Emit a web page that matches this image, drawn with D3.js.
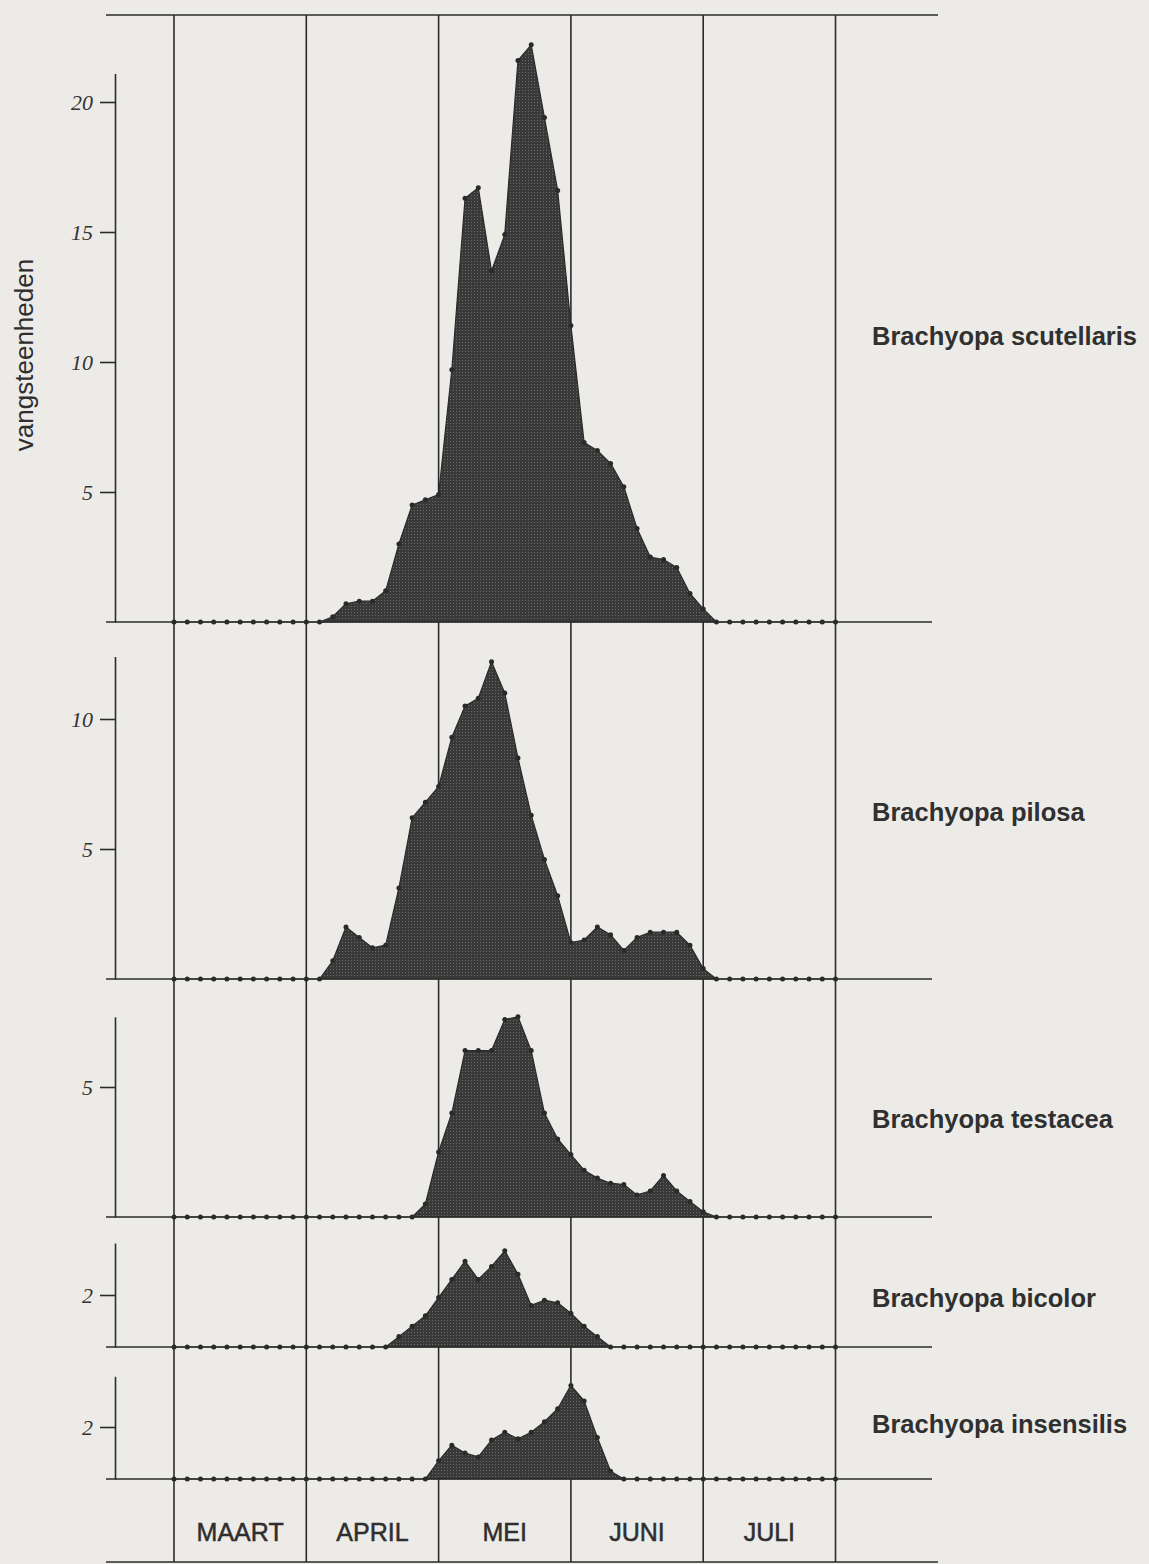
<!DOCTYPE html>
<html>
<head>
<meta charset="utf-8">
<script src="https://cdn.jsdelivr.net/npm/d3@7"></script>
<style>
  body { margin: 0; background: #ecebe8; }
</style>
</head>
<body>
<div id="container"></div>
<script>
/* CONSTANTS AND GLOBALS */
const width = 1149,
  height = 1564,
  unit = 26,          // px per vangsteenheid
  lineLeft = 106,
  lineRight = 932,
  axisX = 115;

/* DATA */
const months = ["MAART", "APRIL", "MEI", "JUNI", "JULI"];
const species = ["Brachyopa scutellaris", "Brachyopa pilosa", "Brachyopa testacea", "Brachyopa bicolor", "Brachyopa insensilis"];

// one value per 1/10 month, from 1 March to 31 July
const scutellaris = [0,0,0,0,0,0,0,0,0,0,0,0, 0.2,0.7,0.8,0.8,1.2,3.0,4.5,4.7,4.9,9.7,16.3,16.7,13.5,14.9,21.6,22.2,19.4,16.6,11.4,6.9,6.6,6.1,5.2,3.6,2.5,2.4,2.1,1.1,0.5, 0,0,0,0,0,0,0,0,0,0];
const pilosa = [0,0,0,0,0,0,0,0,0,0,0,0, 0.7,2.0,1.6,1.2,1.3,3.5,6.2,6.8,7.4,9.3,10.5,10.8,12.2,11.0,8.5,6.3,4.6,3.2,1.4,1.5,2.0,1.7,1.1,1.6,1.8,1.8,1.8,1.3,0.4, 0,0,0,0,0,0,0,0,0,0];
const testacea = [0,0,0,0,0,0,0,0,0,0,0,0,0,0,0,0,0,0,0, 0.5,2.5,4.0,6.4,6.4,6.4,7.6,7.7,6.4,4.0,3.0,2.4,1.8,1.5,1.3,1.25,0.85,1.0,1.6,1.0,0.6,0.2, 0,0,0,0,0,0,0,0,0,0];
const bicolor = [0,0,0,0,0,0,0,0,0,0,0,0,0,0,0,0,0, 0.4,0.8,1.2,1.9,2.6,3.3,2.6,3.1,3.7,2.8,1.6,1.8,1.7,1.3,0.8,0.4, 0,0,0,0,0,0,0,0,0,0,0,0,0,0,0,0,0,0];
const insensilis = [0,0,0,0,0,0,0,0,0,0,0,0,0,0,0,0,0,0,0,0, 0.7,1.3,1.0,0.85,1.5,1.8,1.55,1.8,2.2,2.7,3.6,3.0,1.6,0.3, 0,0,0,0,0,0,0,0,0,0,0,0,0,0,0,0,0];

const tickSets = [[5, 10, 15, 20], [5, 10], [5], [2], [2]];

/* LAYOUT */
const baselines = [622, 979, 1217, 1347, 1479];
const axisTops = [21.1, 12.4, 7.7, 4.0, 3.95];
const labelY = [345, 821, 1128, 1307, 1433];
const series = [scutellaris, pilosa, testacea, bicolor, insensilis];

const svg = d3.select("#container")
  .append("svg")
  .attr("width", width)
  .attr("height", height)
  .style("display", "block")
  .style("background-color", "#ecebe8")

// stippled print screen for the areas
const pattern = svg.append("defs")
  .append("pattern")
  .attr("id", "screen")
  .attr("width", 3)
  .attr("height", 3)
  .attr("patternUnits", "userSpaceOnUse")
pattern.append("rect").attr("width", 3).attr("height", 3).attr("fill", "#393939")
pattern.append("rect").attr("width", 1).attr("height", 1).attr("fill", "#6a6a6a")

/* SCALES */
const xScale = d3.scaleLinear()
  .domain([0, 50])
  .range([174, 835.5])

// month boundaries
svg.selectAll(".month-line")
  .data(d3.range(0, months.length + 1))
  .join("line")
  .attr("class", "month-line")
  .attr("x1", d => xScale(d * 10))
  .attr("x2", d => xScale(d * 10))
  .attr("y1", 15)
  .attr("y2", 1562)
  .attr("stroke", "#2b2b2b")
  .attr("stroke-width", 1.6)

// top and bottom frame lines
svg.selectAll(".frame-line")
  .data([15, 1562])
  .join("line")
  .attr("class", "frame-line")
  .attr("x1", lineLeft)
  .attr("x2", 938)
  .attr("y1", d => d)
  .attr("y2", d => d)
  .attr("stroke", "#2b2b2b")
  .attr("stroke-width", 1.6)

svg.selectAll(".month-label")
  .data(months)
  .join("text")
  .attr("class", "month-label")
  .attr("x", (d, i) => xScale(i * 10 + 5))
  .attr("y", 1541)
  .attr("text-anchor", "middle")
  .style("font-family", "'Liberation Sans', Arial, sans-serif")
  .style("font-size", "25px")
  .style("fill", "#2e2e2e")
  .style("stroke", "#2e2e2e")
  .style("stroke-width", 0.5)
  .text(d => d)

/* PANELS */
series.forEach((values, p) => {
  const base = baselines[p];

  const yScale = d3.scaleLinear()
    .domain([0, axisTops[p]])
    .range([base, base - axisTops[p] * unit])

  const g = svg.append("g").attr("class", "panel")

  const area = d3.area()
    .x((d, i) => xScale(i))
    .y0(base)
    .y1(d => yScale(d))

  g.append("path")
    .datum(values)
    .attr("d", area)
    .attr("fill", "url(#screen)")
    .attr("stroke", "#2a2a2a")
    .attr("stroke-width", 1.2)
    .attr("stroke-linejoin", "round")

  // baseline
  g.append("line")
    .attr("x1", lineLeft)
    .attr("x2", lineRight)
    .attr("y1", base)
    .attr("y2", base)
    .attr("stroke", "#2b2b2b")
    .attr("stroke-width", 1.6)

  g.selectAll(".point")
    .data(values)
    .join("circle")
    .attr("class", "point")
    .attr("cx", (d, i) => xScale(i))
    .attr("cy", d => yScale(d))
    .attr("r", 2.5)
    .style("fill", "#2a2a2a")

  g.append("g")
    .attr("class", "y-axis")
    .attr("transform", `translate(${axisX},0)`)
    .call(d3.axisLeft(yScale).tickValues(tickSets[p]).tickFormat(d3.format("d")).tickSize(15).tickSizeOuter(0).tickPadding(7))
    .call(ax => ax.select(".domain").attr("stroke", "#2b2b2b").attr("stroke-width", 1.6))
    .call(ax => ax.selectAll(".tick line").attr("stroke", "#2b2b2b").attr("stroke-width", 1.6))
    .selectAll("text")
    .style("font-family", "'Liberation Serif', serif")
    .style("font-style", "italic")
    .style("font-size", "22px")
    .style("fill", "#333")

  g.append("text")
    .attr("x", 872)
    .attr("y", labelY[p])
    .style("font-family", "'Liberation Sans', Arial, sans-serif")
    .style("font-weight", "bold")
    .style("font-size", "25.5px")
    .style("fill", "#303030")
    .text(species[p])
})

svg.append("text")
  .attr("transform", "translate(33,355) rotate(-90)")
  .attr("text-anchor", "middle")
  .style("font-family", "'Liberation Sans', Arial, sans-serif")
  .style("font-size", "26px")
  .style("fill", "#2e2e2e")
  .text("vangsteenheden")
</script>
</body>
</html>
